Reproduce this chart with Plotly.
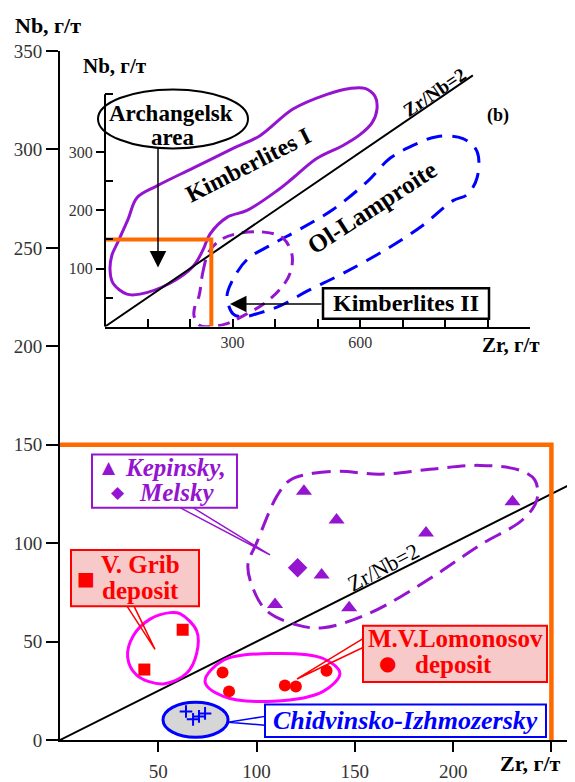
import plotly.graph_objects as go

SERIF = "Liberation Serif"
PURPLE = "#9414D0"
RED = "#FF0000"
MAGENTA = "#FF00FF"
BLUE = "#0000FF"
ORANGE = "#FF6A00"
PINK = "#F7C9C9"

# ---------------- main diagram data (Zr, Nb in g/t) ----------------
kepinsky_zr = [124.1, 140.7, 230.2, 186.2, 133.1, 109.4, 147.1]
kepinsky_nb = [126.4, 111.8, 121.0, 105.2, 83.8, 68.8, 67.2]
melsky_zr = [120.9]
melsky_nb = [87.5]
grib_zr = [62.4, 42.9]
grib_nb = [56.0, 35.8]
lomonosov_zr = [82.7, 86.0, 114.4, 120.0, 135.6]
lomonosov_nb = [34.3, 24.7, 27.7, 27.2, 35.2]
chidvinsko_zr = [64.1, 67.7, 70.7, 73.8]
chidvinsko_nb = [14.5, 10.5, 12.0, 13.5]

# group outlines (main diagram)
kep_env_zr = [117.0, 128.7, 142.4, 162.8, 188.2, 213.6, 234.0, 241.6, 242.6, 235.5, 213.6,
              188.2, 157.7, 133.8, 120.5, 105.3, 98.2, 95.6, 100.2, 110.4, 117.0]
kep_env_nb = [132.0, 135.5, 136.5, 135.0, 137.5, 139.5, 137.0, 132.0, 122.0, 112.0, 99.0,
              82.0, 64.5, 57.0, 58.5, 65.5, 77.0, 89.0, 100.5, 124.0, 132.0]
grib_env_zr = [61.0, 69.5, 69.5, 64.4, 52.5, 39.0, 34.4, 37.3, 45.8, 56.0, 61.0]
grib_env_nb = [64.2, 55.5, 43.9, 33.9, 28.5, 33.0, 42.2, 53.0, 61.4, 64.7, 64.2]
lom_env_zr = [73.8, 83.1, 108.5, 133.9, 142.4, 133.9, 108.5, 83.1, 73.8]
lom_env_nb = [29.7, 40.5, 43.9, 41.4, 33.9, 24.7, 19.7, 22.2, 29.7]
chid_env_zr = [52.4, 85.5]
chid_env_nb = [1.4, 19.2]

ratio_zr = [0, 262]          # Zr/Nb = 2 reference line
ratio_nb = [z / 2 for z in ratio_zr]
frame_zr = [0, 250, 250]     # enlarged area (orange frame)
frame_nb = [150, 150, 0]

main_x_ticks = [50, 100, 150, 200, 250]
main_x_labels = ["50", "100", "150", "200", ""]
main_y_ticks = [0, 50, 100, 150, 200, 250, 300, 350]

# ---------------- inset (b) data ----------------
kimb1_zr = [18.8, 11.8, 16.5, 28.2, 54.1, 75.2, 122.3, 206.9, 301.0, 364.4, 442.0, 522.0, 576.1,
            611.3, 634.8, 639.5, 627.8, 599.6, 559.6, 498.5, 442.0, 404.4, 333.9, 286.9, 246.9,
            230.4, 206.9, 152.8, 82.3, 51.7, 18.8]
kimb1_nb = [74.6, 98.3, 123.7, 142.4, 184.7, 222.0, 242.4, 272.9, 306.8, 328.8, 374.6, 400.0, 410.2,
            410.2, 396.6, 374.6, 350.8, 330.5, 311.9, 289.8, 255.9, 233.9, 200.0, 188.1, 159.3,
            132.2, 103.4, 74.6, 55.9, 55.9, 74.6]
lamp_zr = [301.0, 286.9, 298.6, 333.9, 395.0, 458.5, 536.1, 616.0, 670.1, 724.2, 780.6, 841.8,
           874.7, 874.7, 851.2, 818.2, 747.7, 663.1, 559.6, 475.0, 411.5, 364.4, 324.5, 301.0]
lamp_nb = [22.0, 52.5, 78.0, 115.3, 142.4, 167.8, 201.7, 249.2, 289.8, 311.9, 327.1, 323.7,
           301.7, 255.9, 227.1, 216.9, 174.6, 133.9, 91.5, 61.0, 35.6, 23.7, 16.9, 22.0]
kimb2_zr = [221.0, 230.4, 244.5, 275.1, 317.4, 373.9, 418.5, 439.7, 435.0, 411.5, 376.2, 329.2,
            286.9, 251.6, 223.4, 209.3, 211.6, 221.0]
kimb2_nb = [52.5, 94.9, 128.8, 150.8, 161.0, 162.7, 152.5, 123.7, 91.5, 64.4, 40.7, 20.3,
            5.1, 0.5, 1.7, 18.6, 35.6, 52.5]
inset_ratio_zr = [0, 865]
inset_ratio_nb = [z / 2 for z in inset_ratio_zr]
inset_frame_zr = [0, 250, 250]
inset_frame_nb = [150, 150, 0]

inset_x_ticks = [100, 200, 300, 400, 500, 600, 700, 800, 900]
inset_x_labels = ["", "", "300", "", "", "600", "", "", ""]
inset_y_ticks = [100, 200, 300]
inset_y_minor = [50, 150, 250, 400]
INSET_X_RANGE = [0, 1000]
INSET_Y_RANGE = [0, 440]
INSET_Y_AXIS_TOP = 400

# ---------------- layout geometry ----------------
# the page body adds an 8px margin, so the figure is drawn 8px smaller and shifted
BODY = 8
W, H = 575 - BODY, 782 - BODY
ML, MR, MT, MB = 60 - BODY, 0, 51 - BODY, 31
PW, PH = W - ML - MR, H - MT - MB


def P(x, y):
    """pixel position (in the 575x782 window) of a decoration -> paper coordinates"""
    return (x - BODY - ML) / PW, (H - MB - (y - BODY)) / PH


fig = go.Figure()


def closed(x, y, color, width, dash, axes=("x", "y")):
    fig.add_trace(go.Scatter(x=x, y=y, mode="lines", xaxis=axes[0], yaxis=axes[1],
                             line=dict(color=color, width=width, dash=dash, shape="spline",
                                       smoothing=1.0),
                             hoverinfo="skip"))


# ---- inset traces ----
IN = ("x2", "y2")
closed(kimb1_zr, kimb1_nb, PURPLE, 3, "solid", IN)
closed(lamp_zr, lamp_nb, BLUE, 3, "16px,10px", IN)
closed(kimb2_zr, kimb2_nb, PURPLE, 3, "12px,8px", IN)
fig.add_trace(go.Scatter(x=inset_ratio_zr, y=inset_ratio_nb, mode="lines", xaxis="x2", yaxis="y2",
                         line=dict(color="black", width=2), hoverinfo="skip"))
fig.add_trace(go.Scatter(x=inset_frame_zr, y=inset_frame_nb, mode="lines", xaxis="x2", yaxis="y2",
                         line=dict(color=ORANGE, width=4), hoverinfo="skip"))

# ---- main traces ----
fig.add_trace(go.Scatter(x=ratio_zr, y=ratio_nb, mode="lines",
                         line=dict(color="black", width=2), hoverinfo="skip"))
fig.add_trace(go.Scatter(x=frame_zr, y=frame_nb, mode="lines",
                         line=dict(color=ORANGE, width=4.5), hoverinfo="skip"))
closed(kep_env_zr, kep_env_nb, PURPLE, 3, "18px,9px")
closed(grib_env_zr, grib_env_nb, MAGENTA, 3, "solid")
closed(lom_env_zr, lom_env_nb, MAGENTA, 3, "solid")

fig.add_trace(go.Scatter(x=kepinsky_zr, y=kepinsky_nb, mode="markers", name="Kepinsky",
                         marker=dict(symbol="triangle-up", size=14, color=PURPLE)))
fig.add_trace(go.Scatter(x=melsky_zr, y=melsky_nb, mode="markers", name="Melsky",
                         marker=dict(symbol="diamond", size=15, color=PURPLE)))
fig.add_trace(go.Scatter(x=grib_zr, y=grib_nb, mode="markers", name="V. Grib",
                         marker=dict(symbol="square", size=12, color=RED)))
fig.add_trace(go.Scatter(x=lomonosov_zr, y=lomonosov_nb, mode="markers", name="M.V.Lomonosov",
                         marker=dict(symbol="circle", size=12, color=RED)))
fig.add_trace(go.Scatter(x=chidvinsko_zr, y=chidvinsko_nb, mode="markers", name="Chidvinsko",
                         marker=dict(symbol="cross-thin", size=9, color=BLUE,
                                     line=dict(color=BLUE, width=2))))

shapes = []
annotations = []


def rect(x0, y0, x1, y1, line, fill, width=2):
    a, b = P(x0, y0)
    c, d = P(x1, y1)
    shapes.append(dict(type="rect", xref="paper", yref="paper", x0=a, y0=b, x1=c, y1=d,
                       line=dict(color=line, width=width), fillcolor=fill, layer="above"))


def wedge(pts, color, width=1.5):
    path = ""
    for i, (x, y) in enumerate(pts):
        a, b = P(x, y)
        path += ("M" if i == 0 else "L") + f"{a:.5f},{b:.5f}"
    shapes.append(dict(type="path", xref="paper", yref="paper", path=path,
                       line=dict(color=color, width=width), layer="above"))


def text(x, y, s, size=25, color="black", angle=0, bold=True, italic=False, family=SERIF):
    a, b = P(x, y)
    if bold:
        s = "<b>" + s + "</b>"
    if italic:
        s = "<i>" + s + "</i>"
    annotations.append(dict(x=a, y=b, xref="paper", yref="paper", text=s, showarrow=False,
                            textangle=angle, xanchor="center", yanchor="middle",
                            font=dict(family=family, size=size, color=color)))


def arrow(tip, tail, width=1.5, size=2.2):
    a, b = P(*tip)
    annotations.append(dict(x=a, y=b, xref="paper", yref="paper", text="", showarrow=True,
                            ax=tail[0] - tip[0], ay=tail[1] - tip[1], axref="pixel", ayref="pixel",
                            arrowhead=2, arrowsize=size, arrowwidth=width, arrowcolor="black",
                            standoff=0, startstandoff=0))


# inset y axis line (only up to 400)
shapes.append(dict(type="line", xref="x2 domain", yref="y2 domain", x0=0, x1=0, y0=0,
                   y1=INSET_Y_AXIS_TOP / INSET_Y_RANGE[1], line=dict(color="black", width=2)))

# Chidvinsko field (grey ellipse) in data coordinates
shapes.append(dict(type="circle", xref="x", yref="y", x0=chid_env_zr[0], x1=chid_env_zr[1],
                   y0=chid_env_nb[0], y1=chid_env_nb[1], fillcolor="#D6D6D6",
                   line=dict(color=BLUE, width=3), layer="below"))

# Archangelsk ellipse
a0, b0 = P(98, 90)
a1, b1 = P(248, 150)
shapes.append(dict(type="circle", xref="paper", yref="paper", x0=a0, y0=b1, x1=a1, y1=b0,
                   line=dict(color="black", width=2), layer="above"))

# callouts
wedge([(180, 515), (270, 563), (193, 515)], PURPLE)
wedge([(127, 615), (155, 659), (134, 615)], RED)
wedge([(363, 648), (297, 689), (363, 657)], RED)
wedge([(265, 727), (228, 733), (265, 736)], BLUE)

# legend boxes
rect(92, 461, 237, 515, PURPLE, "white")
rect(71, 558, 199, 615, RED, PINK)
rect(363, 635, 547, 692, RED, PINK)
rect(265, 715, 546, 748, BLUE, "white")
rect(323, 292, 489, 323, "black", "white", width=2.5)

# legend texts
text(109, 474, "▲", size=17, color=PURPLE, bold=False, family="DejaVu Sans")
text(118, 499, "◆", size=17, color=PURPLE, bold=False, family="DejaVu Sans")
text(175, 474, "Kepinsky,", color=PURPLE, italic=True)
text(177, 500, "Melsky", color=PURPLE, italic=True)
text(86, 586, "■", size=19, color=RED, bold=False, family="DejaVu Sans")
text(140, 573, "V. Grib", color=RED)
text(140, 599, "deposit", color=RED)
text(455, 648, "M.V.Lomonosov", color=RED)
text(387, 673, "●", size=20, color=RED, bold=False, family="DejaVu Sans")
text(453, 674, "deposit", color=RED)
text(405, 731, "Chidvinsko-Izhmozersky", size=26, color=BLUE, italic=True)

# inset texts
text(171, 114, "Archangelsk", size=23)
text(173, 139, "area", size=23)
text(248, 167, "Kimberlites I", size=24, angle=-27)
text(372, 210, "Ol-Lamproite", size=25, angle=-33)
text(406, 307, "Kimberlites II", size=24)
text(434, 93, "Zr/Nb=2", size=19, angle=-34)
text(498, 117, "(b)", size=18)
text(115, 66, "Nb, г/т", size=21)
text(511, 350, "Zr, г/т", size=21)
arrow((158, 271), (158, 150))
arrow((230, 308), (323, 308))

# main texts
text(383, 576, "Zr/Nb=2", size=22, angle=-28, bold=False)
text(48, 25, "Nb, г/т", size=22)
text(530, 775, "Zr, г/т", size=22)

ax_common = dict(showgrid=False, zeroline=False, linecolor="black", tickcolor="black")

in_x0, _ = P(105, 0)
in_x1, _ = P(530.3, 0)
_, in_y0 = P(0, 331)
_, in_y1 = P(0, 71.4)

fig.update_layout(
    width=W, height=H, margin=dict(l=ML, r=MR, t=MT, b=MB),
    plot_bgcolor="white", paper_bgcolor="white", showlegend=False,
    xaxis=dict(range=[0, 262], domain=[0, 1], showline=True, linewidth=2, ticks="outside",
               ticklen=10, tickwidth=2, tickvals=main_x_ticks, ticktext=main_x_labels,
               ticklabelstandoff=3,
               tickfont=dict(family=SERIF, size=19, color="#333333"), **ax_common),
    yaxis=dict(range=[0, 350], domain=[0, 1], showline=True, linewidth=2, ticks="outside",
               ticklen=12, tickwidth=2, tickvals=main_y_ticks,
               tickfont=dict(family=SERIF, size=19, color="#333333"), **ax_common),
    xaxis2=dict(domain=[in_x0, in_x1], anchor="y2", range=INSET_X_RANGE, showline=True,
                linewidth=2, ticks="inside", ticklen=8, tickwidth=1.5, tickvals=inset_x_ticks,
                ticktext=inset_x_labels, tickfont=dict(family=SERIF, size=16, color="#333333"),
                **ax_common),
    yaxis2=dict(domain=[in_y0, in_y1], anchor="x2", range=INSET_Y_RANGE, showline=False,
                ticks="outside", ticklen=8, tickwidth=1.5, tickvals=inset_y_ticks,
                minor=dict(tickvals=inset_y_minor, ticks="inside", ticklen=8, tickwidth=1.5,
                           tickcolor="black"),
                tickfont=dict(family=SERIF, size=16, color="#333333"), **ax_common),
    shapes=shapes, annotations=annotations,
)

fig.write_html("out.html", config={"displayModeBar": False})
